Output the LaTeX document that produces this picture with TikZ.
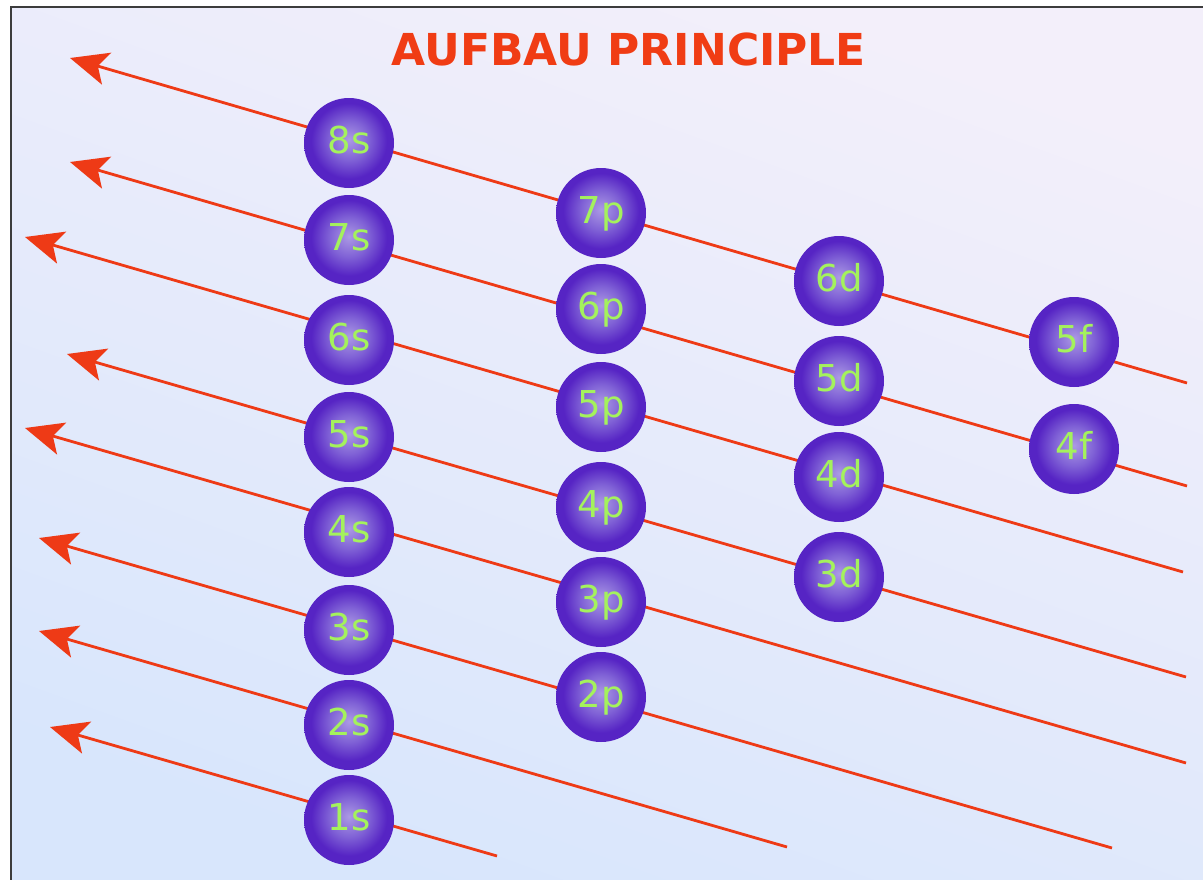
\documentclass[tikz,border=0pt]{standalone}
\usepackage{fontspec}
\setmainfont{DejaVu Sans}
\usetikzlibrary{arrows.meta}
\definecolor{bgtop}{RGB}{243,239,250}
\definecolor{bgbot}{RGB}{216,230,252}
\definecolor{arr}{RGB}{238,58,22}
\definecolor{ttl}{RGB}{240,60,20}
\definecolor{orbhi}{RGB}{172,154,228}
\definecolor{orbmid}{RGB}{128,98,214}
\definecolor{orbdk}{RGB}{86,36,196}
\definecolor{lbl}{RGB}{164,242,92}
\definecolor{frm}{RGB}{60,60,60}
\pgfdeclareradialshading{orb}{\pgfpoint{0bp}{2bp}}{color(0bp)=(orbhi); color(11bp)=(orbmid); color(21bp)=(orbdk); color(50bp)=(orbdk)}
\begin{document}
\begin{tikzpicture}[x=1bp,y=-1bp,
  orbital/.style={circle, minimum size=90bp, inner sep=0pt, shading=orb, text=lbl,
    font=\fontsize{37bp}{40bp}\selectfont, text height=27bp, text depth=5.4bp},
  aufarrow/.style={draw=arr, line width=2.8bp, -{Stealth[length=38bp,width=33bp,inset=9bp]}},
  titletext/.style={text=ttl, inner sep=0pt, font=\bfseries\fontsize{44bp}{48bp}\selectfont}]
\useasboundingbox (0,0) rectangle (1203,880);
\fill[white] (0,0) rectangle (1203,880);
\shade[top color=bgtop, bottom color=bgbot, shading angle=-20] (11,7) rectangle (1203,880);
\draw[frm, line width=2bp] (11,880) -- (11,7) -- (1203,7);

\node[titletext] (title) at (629,49) {AUFBAU PRINCIPLE};

% arrow tips and free ends
\coordinate (t8) at (70,58);   \coordinate (e8) at (1187,383);
\coordinate (t7) at (70,162);  \coordinate (e7) at (1187,486);
\coordinate (t6) at (25,237);  \coordinate (e6) at (1183,572);
\coordinate (t5) at (67,354);  \coordinate (e5) at (1186,677);
\coordinate (t4) at (25,428);  \coordinate (e4) at (1186,763);
\coordinate (t3) at (39,538);  \coordinate (e3) at (1112,848);
\coordinate (t2) at (39,631);  \coordinate (e2) at (787,847);
\coordinate (t1) at (50,727);  \coordinate (e1) at (497,856);

\foreach \i in {1,...,8} { \draw[aufarrow] (e\i) -- (t\i); }

% s
\node[orbital] (s8) at (349,143) {8s};
\node[orbital] (s7) at (349,240) {7s};
\node[orbital] (s6) at (349,340) {6s};
\node[orbital] (s5) at (349,437) {5s};
\node[orbital] (s4) at (349,532) {4s};
\node[orbital] (s3) at (349,630) {3s};
\node[orbital] (s2) at (349,725) {2s};
\node[orbital] (s1) at (349,820) {1s};
% p
\node[orbital] (p7) at (601,213) {7p};
\node[orbital] (p6) at (601,309) {6p};
\node[orbital] (p5) at (601,407) {5p};
\node[orbital] (p4) at (601,507) {4p};
\node[orbital] (p3) at (601,602) {3p};
\node[orbital] (p2) at (601,697) {2p};
% d
\node[orbital] (d6) at (839,281) {6d};
\node[orbital] (d5) at (839,381) {5d};
\node[orbital] (d4) at (839,477) {4d};
\node[orbital] (d3) at (839,577) {3d};
% f
\node[orbital] (f5) at (1074,342) {5f};
\node[orbital] (f4) at (1074,449) {4f};
\end{tikzpicture}
\end{document}
